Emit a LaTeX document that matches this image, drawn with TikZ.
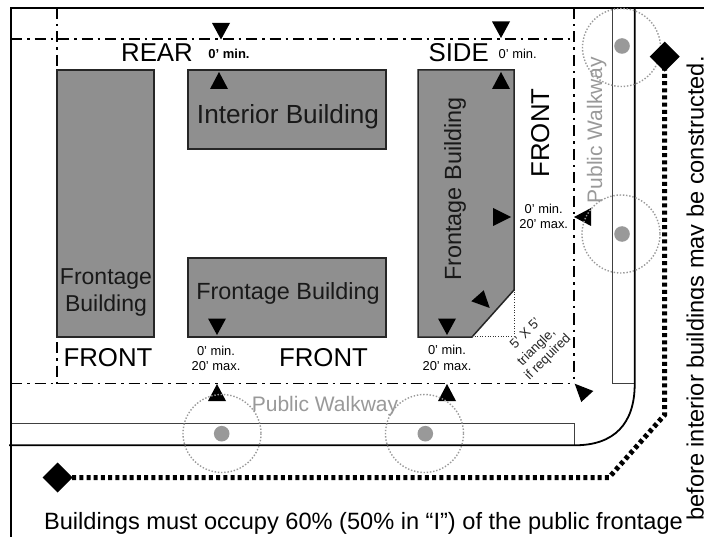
\documentclass[tikz,border=0pt]{standalone}
\usepackage{fontspec}
\setmainfont{Liberation Sans}
\usetikzlibrary{calc}
\definecolor{bldg}{HTML}{8F8F8F}
\definecolor{walk}{HTML}{999999}
\tikzset{
  x=1pt,y=-1pt,
  frame/.style={draw=black,line width=1.8pt},
  thinline/.style={draw=black!75,line width=0.7pt},
  setback/.style={draw=black,line width=1.2pt,dash pattern=on 11pt off 5pt on 2.5pt off 5pt},
  bldgbox/.style={draw=black!85,fill=bldg,line width=1.5pt,line join=miter},
  tree/.style={draw=walk,line width=1.4pt,dash pattern=on 1.4pt off 1.8pt},
  trunk/.style={fill=walk},
  marker/.style={fill=black},
  phase/.style={draw=black,line width=5pt,dash pattern=on 4pt off 3.2pt},
  big/.style={anchor=base,inner sep=0pt,font=\fontsize{25.8}{25.8}\selectfont},
  bldgtext/.style={anchor=base,inner sep=0pt,text=black!90,font=\fontsize{23.4}{23.4}\selectfont},
  small/.style={anchor=base,inner sep=0pt,font=\fontsize{12.9}{12.9}\selectfont},
  smallb/.style={anchor=base,inner sep=0pt,font=\bfseries\fontsize{13}{13}\selectfont},
  walktext/.style={anchor=base,inner sep=0pt,text=walk,font=\fontsize{21}{21}\selectfont},
  note/.style={anchor=base,inner sep=0pt,font=\fontsize{23.6}{23.6}\selectfont},
  tiny/.style={anchor=center,inner sep=0pt,rotate=45,text=black!85,font=\fontsize{13.3}{13.3}\selectfont},
}
\newcommand{\mkdown}[2]{\fill[marker] (#1-9,#2-16.5) -- (#1+9,#2-16.5) -- (#1,#2) -- cycle;}
\newcommand{\mkup}[2]{\fill[marker] (#1-9,#2+17) -- (#1+9,#2+17) -- (#1,#2) -- cycle;}
\begin{document}
\begin{tikzpicture}
\clip (0,0) rectangle (704,537);
\fill[white] (0,0) rectangle (704,537);
% buildings
\draw[bldgbox] (57,70) rectangle (154,337);
\draw[bldgbox] (188,70) rectangle (386,149);
\draw[bldgbox] (188,258) rectangle (386,337);
\draw[bldgbox] (418,70) -- (514,70) -- (514,290) -- (472,337) -- (418,337) -- cycle;
\draw[black!80,line width=0.9pt,dash pattern=on 1pt off 1.6pt] (472,336.5) -- (514,336.5) -- (514,290);
% walkway and lot
\draw[thinline] (612.7,8) -- (612.7,383.7) -- (634.7,383.7);
\draw[thinline] (11,423) -- (574.7,423) -- (574.7,445);
\draw[frame] (704,8) -- (11,8) -- (11,537);
\draw[frame] (634.7,8) -- (634.7,384) .. controls (634.7,424) and (614,445.3) .. (574.7,445.3) -- (9,445.3);
% setback lines
\draw[setback] (11,39) -- (574,39);
\draw[setback] (574,8) -- (574,383.5);
\draw[setback] (11,383.5) -- (574,383.5);
\draw[setback] (57,8) -- (57,68);
\draw[setback] (57,342) -- (57,383.5);
% markers
\mkdown{221}{39.5}
\mkup{219}{72}
\mkdown{501}{38}
\mkup{501}{72}
\fill[marker] (493,208) -- (511,217) -- (493,226) -- cycle;
\fill[marker] (591,208) -- (574,217) -- (591,226) -- cycle;
\mkdown{217}{335}
\mkup{217}{384}
\mkdown{447}{335}
\mkup{447}{384}
\fill[marker] (483.7,290.3) -- (471.3,301.3) -- (489.7,308) -- cycle;
\fill[marker] (574.7,383.7) -- (593.3,391) -- (581.3,402) -- cycle;
% trees
\draw[tree] (222,433.5) circle (39);
\draw[tree] (424.5,433.5) circle (39);
\draw[tree] (621.5,47.5) circle (39);
\draw[tree] (621,234) circle (39);
\fill[trunk] (221.7,433.7) circle (7.8);
\fill[trunk] (425.3,433.7) circle (7.8);
\fill[trunk] (622,46) circle (7.8);
\fill[trunk] (622,234) circle (7.8);
% phasing line
\coordinate (pa) at (57.7,477.5);
\coordinate (pb) at (609,477.5);
\coordinate (pc) at (664.5,415);
\coordinate (pd) at (664.5,56.7);
\draw[phase] (pa) -- (pb) -- (pc) -- (pd);
\fill[marker] (57.7,462.5) -- (72.7,477.5) -- (57.7,492.5) -- (42.7,477.5) -- cycle;
\fill[marker] (664.7,41.7) -- (679.7,56.7) -- (664.7,71.7) -- (649.7,56.7) -- cycle;
% labels
\node[big] (rear) at (157,61.7) {REAR};
\node[big] (side) at (458.7,61.7) {SIDE};
\node[smallb] (m1) at (229,59) {0' min.};
\node[small] (m2) at (517.7,59) {0' min.};
\node[bldgtext,font=\fontsize{26.2}{26.2}\selectfont] (ib) at (288,124) {Interior Building};
\node[bldgtext,font=\fontsize{23}{23}\selectfont] (fb1a) at (106,285) {Frontage};
\node[bldgtext,font=\fontsize{23}{23}\selectfont] (fb1b) at (106,312) {Building};
\node[bldgtext] (fb2) at (288,299) {Frontage Building};
\node[bldgtext,rotate=90] (fb3) at (461,189) {Frontage Building};
\node[big] (f1) at (108,366) {FRONT};
\node[big] (f2) at (323.5,366) {FRONT};
\node[big,rotate=90] (f3) at (549,133) {FRONT};
\node[small] (a1) at (216,355) {0' min.};
\node[small] (a2) at (216,370) {20' max.};
\node[small] (b1) at (447,354.5) {0' min.};
\node[small] (b2) at (447,370) {20' max.};
\node[small] (c1) at (543.7,214) {0' min.};
\node[small] (c2) at (543.7,229) {20' max.};
\node[walktext] (w1) at (325,411) {Public Walkway};
\node[walktext,rotate=90] (w2) at (602,130) {Public Walkway};
\node[tiny] (t1) at (525,333) {5' X 5'};
\node[tiny] (t2) at (536.7,347.5) {triangle,};
\node[tiny] (t3) at (548,357.5) {if required};
\node[note] (n1) at (363.5,529) {Buildings must occupy 60\% (50\% in “I”) of the public frontage};
\node[note,rotate=90] (n2) at (703.7,288.5) {before interior buildings may be constructed.};
\end{tikzpicture}
\end{document}
